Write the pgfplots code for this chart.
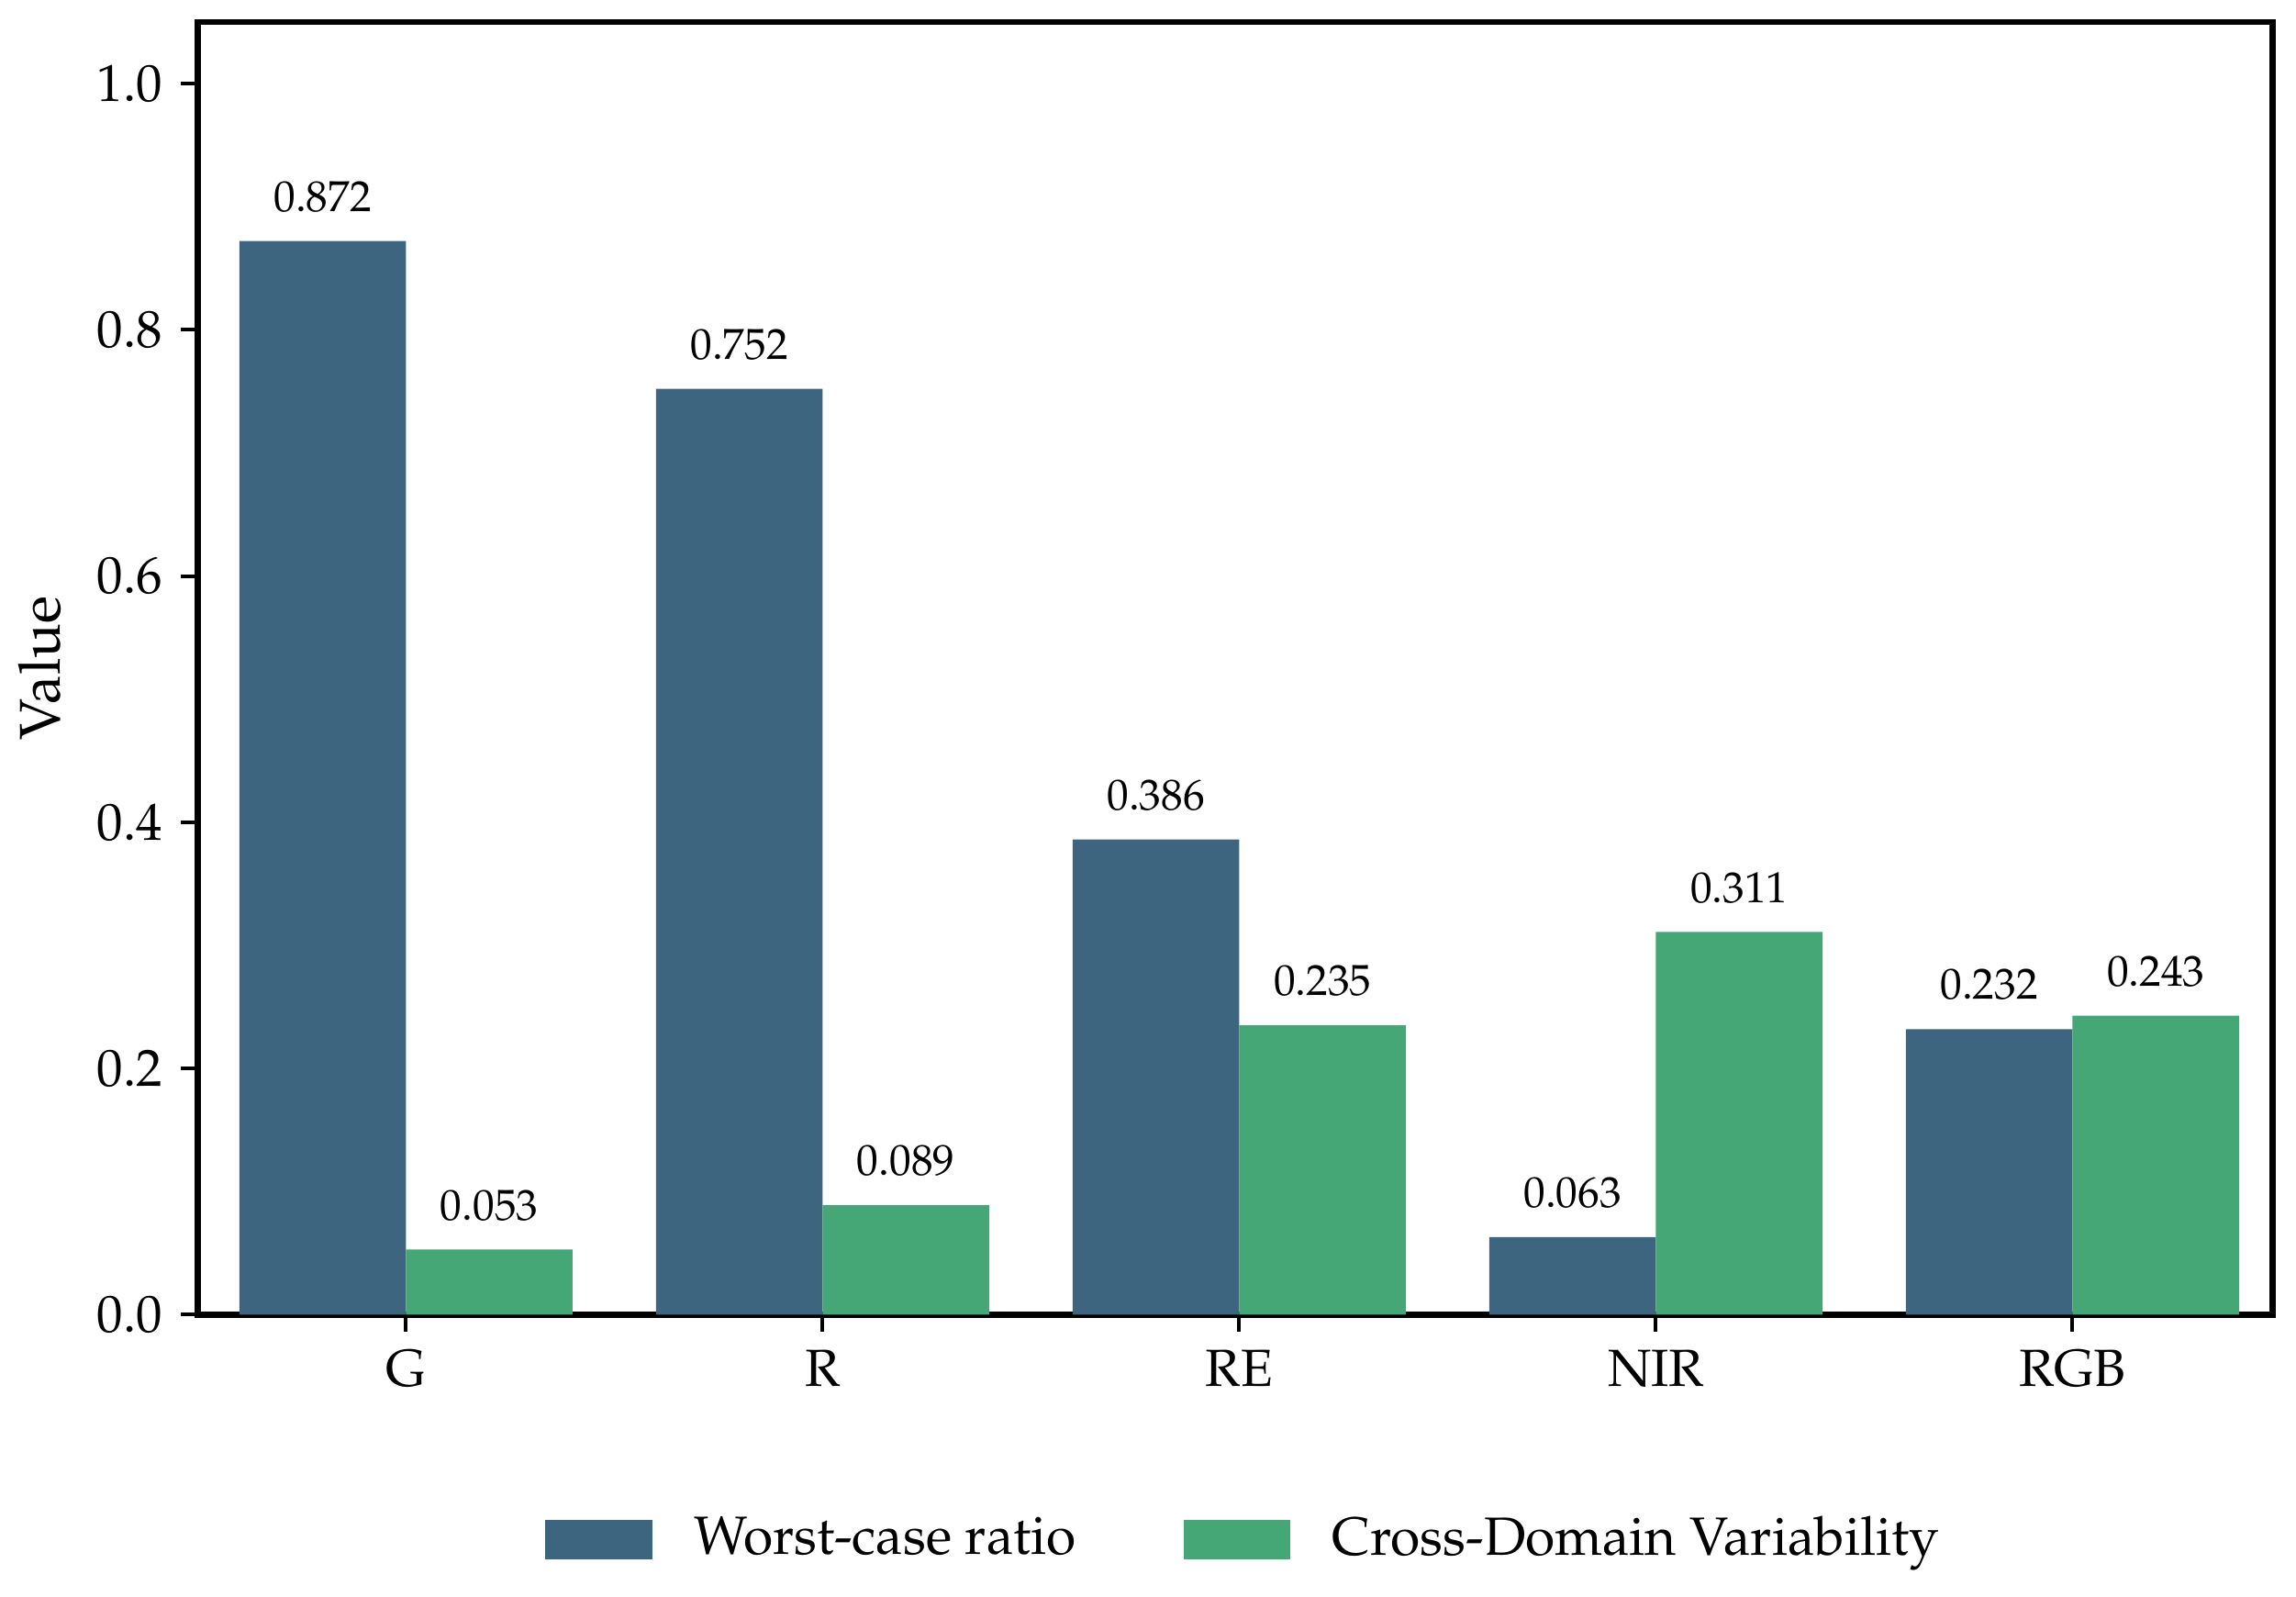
\documentclass[border=0pt]{standalone}
\usepackage[T1]{fontenc}
\usepackage{mathpazo}
\usepackage{pgfplots}
\pgfplotsset{compat=1.18}

\definecolor{worst}{HTML}{3D6580}
\definecolor{cross}{HTML}{45A676}

\begin{document}
\begin{tikzpicture}
\begin{axis}[
	width=396.8pt, height=247.2pt, scale only axis,
	xmin=-0.5, xmax=4.48,
	ymin=0, ymax=1.05,
	xtick={0,1,2,3,4},
	xticklabels={G,R,RE,NIR,RGB},
	ytick={0,0.2,0.4,0.6,0.8,1.0},
	yticklabel style={/pgf/number format/fixed, /pgf/number format/precision=1, /pgf/number format/fixed zerofill},
	ylabel={Value},
	ylabel style={font=\fontsize{11}{13}\selectfont, yshift=0pt},
	axis line style={line width=1.1pt},
	tick style={line width=0.7pt, black},
	tick align=outside, major tick length=3.2pt,
	xtick pos=bottom, ytick pos=left,
	ybar, bar width=0.4,
	nodes near coords,
	every node near coord/.append style={font=\fontsize{8.3}{10}\selectfont, color=black, yshift=2pt,
		/pgf/number format/fixed, /pgf/number format/precision=3, /pgf/number format/fixed zerofill},
	legend style={at={(0.506,-0.174)}, anchor=center, draw=none, legend columns=2,
		font=\fontsize{10.3}{12}\selectfont,
		/tikz/every even column/.append style={column sep=18.5pt}},
	legend image code/.code={\fill[#1] (0pt,-3.8pt) rectangle (20.5pt,3.8pt); \path[draw=none,fill=none] (0pt,0pt) rectangle (26.5pt,0.1pt);},
]
\addplot[fill=worst, draw=none, bar shift=-0.2] coordinates {
	(0,0.872) (1,0.752) (2,0.386) (3,0.063) (4,0.232)
};
\addlegendentry{Worst-case ratio}
\addplot[fill=cross, draw=none, bar shift=0.2] coordinates {
	(0,0.053) (1,0.089) (2,0.235) (3,0.311) (4,0.243)
};
\addlegendentry{Cross-Domain Variability}
\end{axis}
\path ([xshift=-37.8pt,yshift=-53.8pt]current axis.south west) rectangle ([xshift=4.5pt,yshift=4.2pt]current axis.north east);
\end{tikzpicture}
\end{document}
